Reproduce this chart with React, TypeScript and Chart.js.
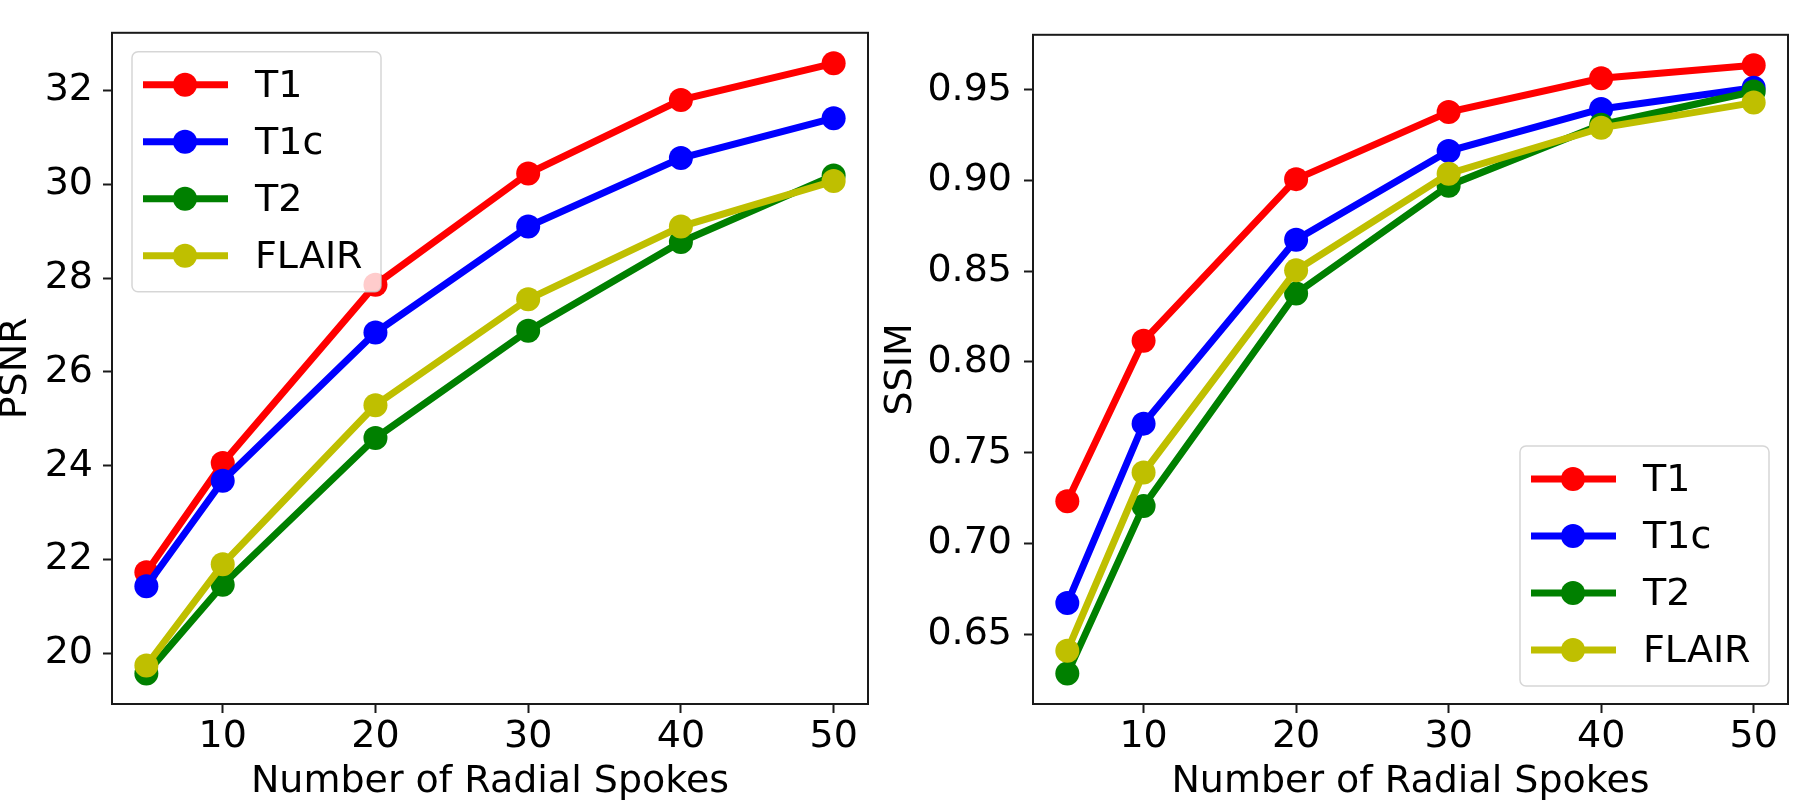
import React, { useEffect, useRef } from 'react';
import { Chart, registerables } from 'chart.js';

Chart.register(...registerables);

// ---- Data ----
const spokes = [5, 10, 20, 30, 40, 50];
const seriesNames = ['T1', 'T1c', 'T2', 'FLAIR'];
const seriesColors = ['#ff0000', '#0000ff', '#008000', '#bfbf00'];

const psnrT1 = [21.73, 24.06, 27.86, 30.23, 31.8, 32.58];
const psnrT1c = [21.43, 23.68, 26.84, 29.1, 30.56, 31.41];
const psnrT2 = [19.57, 21.46, 24.59, 26.88, 28.77, 30.19];
const psnrFLAIR = [19.74, 21.9, 25.29, 27.55, 29.1, 30.07];

const ssimT1 = [0.7232, 0.8117, 0.9008, 0.9378, 0.9564, 0.9636];
const ssimT1c = [0.6671, 0.766, 0.8674, 0.9163, 0.9395, 0.9512];
const ssimT2 = [0.6282, 0.7206, 0.8378, 0.8972, 0.9308, 0.9491];
const ssimFLAIR = [0.6408, 0.739, 0.8505, 0.9038, 0.9291, 0.943];

const xTicks = [10, 20, 30, 40, 50];
const psnrTicks = [20, 22, 24, 26, 28, 30, 32];
const ssimTicks = [0.65, 0.7, 0.75, 0.8, 0.85, 0.9, 0.95];

const xTitle = 'Number of Radial Spokes';

const FONT = 'DejaVu Sans';
const FS = 38;
const AXIS_COLOR = '#1a1a1a';
const LINE_W = 7;
const MARKER_R = 12;

function paddedRange(vals: number[]): [number, number] {
  const lo = Math.min(...vals);
  const hi = Math.max(...vals);
  const m = (hi - lo) * 0.05;
  return [lo - m, hi + m];
}

const framePlugin = {
  id: 'frameAndLegend',
  afterDatasetsDraw(chart: any, _args: any, opts: any) {
    const ctx = chart.ctx;
    const ca = chart.chartArea;
    ctx.save();
    // frame
    ctx.strokeStyle = AXIS_COLOR;
    ctx.lineWidth = 2;
    ctx.strokeRect(ca.left, ca.top, ca.right - ca.left, ca.bottom - ca.top);

    // legend
    const w = 249;
    const h = 240;
    const bx = opts.corner === 'tl' ? ca.left + 20 : ca.right - 19 - w;
    const by = opts.corner === 'tl' ? ca.top + 19 : ca.bottom - 18 - h;
    const r = 6;
    ctx.beginPath();
    ctx.moveTo(bx + r, by);
    ctx.lineTo(bx + w - r, by);
    ctx.arcTo(bx + w, by, bx + w, by + r, r);
    ctx.lineTo(bx + w, by + h - r);
    ctx.arcTo(bx + w, by + h, bx + w - r, by + h, r);
    ctx.lineTo(bx + r, by + h);
    ctx.arcTo(bx, by + h, bx, by + h - r, r);
    ctx.lineTo(bx, by + r);
    ctx.arcTo(bx, by, bx + r, by, r);
    ctx.closePath();
    ctx.fillStyle = 'rgba(255,255,255,0.8)';
    ctx.fill();
    ctx.strokeStyle = 'rgba(204,204,204,0.8)';
    ctx.lineWidth = 1.5;
    ctx.stroke();

    ctx.font = `${FS}px "${FONT}"`;
    ctx.textBaseline = 'middle';
    ctx.textAlign = 'left';
    seriesNames.forEach((name, i) => {
      const cy = by + 33 + i * 57;
      const col = seriesColors[i];
      ctx.strokeStyle = col;
      ctx.lineWidth = LINE_W;
      ctx.beginPath();
      ctx.moveTo(bx + 11, cy);
      ctx.lineTo(bx + 96, cy);
      ctx.stroke();
      ctx.fillStyle = col;
      ctx.beginPath();
      ctx.arc(bx + 53, cy, MARKER_R, 0, Math.PI * 2);
      ctx.fill();
      ctx.fillStyle = '#000';
      ctx.fillText(name, bx + 123, cy + 2);
    });
    ctx.restore();
  },
};

function makeConfig(
  series: number[][],
  yTicks: number[],
  yTitle: string,
  yWidth: number,
  yTickPad: number,
  yTitlePad: number,
  corner: string,
  fmt: (v: number) => string
): any {
  const [ymin, ymax] = paddedRange(series.flat());
  const [xmin, xmax] = paddedRange(spokes);
  const n = seriesNames.length;
  return {
    type: 'line',
    data: {
      datasets: seriesNames.map((name, i) => ({
        label: name,
        data: spokes.map((x, j) => ({ x, y: series[i][j] })),
        borderColor: seriesColors[i],
        backgroundColor: seriesColors[i],
        pointBackgroundColor: seriesColors[i],
        pointBorderWidth: 0,
        pointRadius: MARKER_R,
        borderWidth: LINE_W,
        tension: 0,
        fill: false,
        order: n - i,
        clip: false,
      })),
    },
    options: {
      animation: false,
      responsive: false,
      devicePixelRatio: 1,
      layout: { padding: { top: 1, right: 2, left: 0, bottom: 0 } },
      plugins: {
        legend: { display: false },
        tooltip: { enabled: false },
        frameAndLegend: { corner },
      },
      scales: {
        x: {
          type: 'linear',
          min: xmin,
          max: xmax,
          afterBuildTicks: (s: any) => {
            s.ticks = xTicks.map((v) => ({ value: v }));
          },
          afterFit: (s: any) => {
            s.height = 101;
          },
          border: { display: false },
          grid: {
            display: true,
            drawOnChartArea: false,
            drawTicks: true,
            tickLength: 9,
            tickWidth: 2,
            tickColor: AXIS_COLOR,
          },
          ticks: {
            font: { family: FONT, size: FS, lineHeight: 1.2 },
            color: '#000',
            padding: 1,
            maxRotation: 0,
            autoSkip: false,
            callback: (v: number) => String(v),
          },
          title: {
            display: true,
            text: xTitle,
            color: '#000',
            font: { family: FONT, size: FS, lineHeight: 1 },
            padding: { top: 0, bottom: 4 },
          },
        },
        y: {
          type: 'linear',
          min: ymin,
          max: ymax,
          afterBuildTicks: (s: any) => {
            s.ticks = yTicks.map((v) => ({ value: v }));
          },
          afterFit: (s: any) => {
            s.width = yWidth;
          },
          border: { display: false },
          grid: {
            display: true,
            drawOnChartArea: false,
            drawTicks: true,
            tickLength: 9,
            tickWidth: 2,
            tickColor: AXIS_COLOR,
          },
          ticks: {
            font: { family: FONT, size: FS, lineHeight: 1.2 },
            color: '#000',
            padding: yTickPad,
            autoSkip: false,
            callback: (v: number) => fmt(v),
          },
          title: {
            display: true,
            text: yTitle,
            color: '#000',
            font: { family: FONT, size: FS, lineHeight: 1 },
            padding: { top: yTitlePad, bottom: 0 },
          },
        },
      },
    },
    plugins: [framePlugin],
  };
}

function ChartCanvas(props: { config: any; left: number; width: number }) {
  const ref = useRef<HTMLCanvasElement | null>(null);
  useEffect(() => {
    if (!ref.current) return;
    const chart = new Chart(ref.current, props.config);
    return () => chart.destroy();
  }, []);
  return (
    <canvas
      ref={ref}
      width={props.width}
      height={805}
      style={{ position: 'absolute', left: props.left, top: 0, width: props.width, height: 805 }}
    />
  );
}

export default function App() {
  const leftCfg = makeConfig(
    [psnrT1, psnrT1c, psnrT2, psnrFLAIR],
    psnrTicks,
    'PSNR',
    112,
    10,
    -3,
    'tl',
    (v) => String(v)
  );
  const rightCfg = makeConfig(
    [ssimT1, ssimT1c, ssimT2, ssimFLAIR],
    ssimTicks,
    'SSIM',
    153,
    12,
    2,
    'br',
    (v) => v.toFixed(2)
  );
  return (
    <div
      style={{
        position: 'absolute',
        left: 0,
        top: 0,
        width: 1800,
        height: 805,
        background: '#fff',
        overflow: 'hidden',
      }}
    >
      <ChartCanvas config={leftCfg} left={0} width={880} />
      <ChartCanvas config={rightCfg} left={880} width={920} />
    </div>
  );
}
